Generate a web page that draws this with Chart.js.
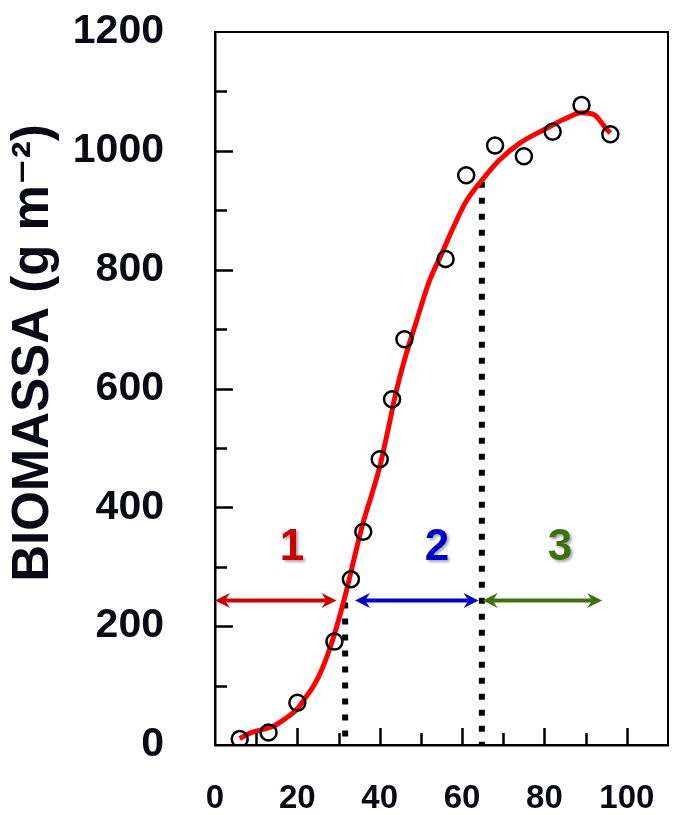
<!DOCTYPE html>
<html>
<head>
<meta charset="utf-8">
<script src="https://cdn.jsdelivr.net/npm/chart.js@4.4.1/dist/chart.umd.min.js"></script>
<style>
  html, body { margin: 0; padding: 0; background: #ffffff; overflow: hidden; }
  canvas { display: block; }
</style>
</head>
<body>
<canvas id="c" width="673" height="815"></canvas>
<script>
// Observed biomass (days vs g m-2)
const obsDays    = [6, 13, 20, 29, 33, 36, 40, 43, 46, 56, 61, 68, 75, 82, 89, 96];
const obsBiomass = [10, 21, 71, 174, 279, 359, 481, 582, 683, 818, 959, 1009, 991, 1032, 1077, 1028];

// Fitted growth curve
const fitDays    = [6, 8.5, 11, 14, 17, 20, 22, 24, 26, 28, 30, 32, 34, 36, 38, 40, 42, 44, 46, 49, 52, 55, 58, 61, 65, 69, 74, 80, 85, 89, 92, 95, 96];
const fitBiomass = [11, 20, 25, 31, 44, 61, 80, 100, 128, 165, 210, 262, 320, 375, 420, 468, 530, 595, 648, 715, 780, 826, 873, 915, 952, 984, 1013, 1036, 1054, 1064, 1061, 1037, 1030];

// Phase boundaries (dotted drops from the curve)
const boundDays    = [31.6, 64.8];
const boundBiomass = [240, 948];

// Growth phases
const phaseNames      = ['1', '2', '3'];
const phaseStart      = [0, 34, 65];
const phaseEnd        = [29.5, 64, 94];
const phaseLabelDays  = [18.7, 53.9, 83.8];
const phaseArrowLevel = 243;
const phaseLabelLevel = 331;
const phaseColors     = ['#cc0000', '#0000cc', '#3d7010'];

// Axis ticks
const xTicks      = [0, 20, 40, 60, 80, 100];
const xMinorTicks = [10, 30, 50, 70, 90];
const yTicks      = [0, 200, 400, 600, 800, 1000, 1200];
const yMinorTicks = [100, 300, 500, 700, 900, 1100];

const FONT = "'Liberation Sans', Arial, 'DejaVu Sans', sans-serif";

const toPts = (xs, ys) => xs.map((v, i) => ({ x: v, y: ys[i] }));

// Inward tick marks on the frame
const innerTicks = {
  id: 'innerTicks',
  afterDraw(chart) {
    const { ctx, chartArea: a, scales: { x, y } } = chart;
    ctx.save();
    ctx.strokeStyle = '#000';
    ctx.lineWidth = 2.5;
    ctx.beginPath();
    yTicks.slice(1, -1).forEach(v => {
      const p = Math.round(y.getPixelForValue(v)) + 0.5;
      ctx.moveTo(a.left, p); ctx.lineTo(a.left + 18, p);
    });
    yMinorTicks.forEach(v => {
      const p = Math.round(y.getPixelForValue(v)) + 0.5;
      ctx.moveTo(a.left, p); ctx.lineTo(a.left + 12, p);
    });
    xTicks.slice(1).forEach(v => {
      const p = Math.round(x.getPixelForValue(v)) + 0.5;
      ctx.moveTo(p, a.bottom); ctx.lineTo(p, a.bottom - 17);
    });
    xMinorTicks.forEach(v => {
      const p = Math.round(x.getPixelForValue(v)) + 0.5;
      ctx.moveTo(p, a.bottom); ctx.lineTo(p, a.bottom - 12);
    });
    ctx.stroke();
    ctx.restore();
  }
};

// Double-headed phase arrows and phase numbers
function arrowHead(ctx, tipX, y, dir) {
  const len = 15, half = 7.5, notch = 10;
  ctx.beginPath();
  ctx.moveTo(tipX, y);
  ctx.lineTo(tipX - dir * len, y - half);
  ctx.lineTo(tipX - dir * notch, y);
  ctx.lineTo(tipX - dir * len, y + half);
  ctx.closePath();
  ctx.fill();
}

const phaseMarks = {
  id: 'phaseMarks',
  afterDatasetsDraw(chart) {
    const { ctx, scales: { x, y } } = chart;
    ctx.save();
    const py = y.getPixelForValue(phaseArrowLevel);
    phaseNames.forEach((name, i) => {
      const x1 = x.getPixelForValue(phaseStart[i]);
      const x2 = x.getPixelForValue(phaseEnd[i]);
      ctx.strokeStyle = phaseColors[i];
      ctx.fillStyle = phaseColors[i];
      ctx.lineWidth = 4;
      ctx.beginPath();
      ctx.moveTo(x1 + 10, py);
      ctx.lineTo(x2 - 10, py);
      ctx.stroke();
      arrowHead(ctx, x1, py, -1);
      arrowHead(ctx, x2, py, 1);

      ctx.save();
      ctx.shadowColor = 'rgba(0,0,0,0.35)';
      ctx.shadowOffsetX = 2;
      ctx.shadowOffsetY = 2;
      ctx.shadowBlur = 3;
      ctx.font = 'bold 44px ' + FONT;
      ctx.textAlign = 'center';
      ctx.textBaseline = 'middle';
      ctx.fillText(name, x.getPixelForValue(phaseLabelDays[i]), y.getPixelForValue(phaseLabelLevel));
      ctx.restore();
    });
    ctx.restore();
  }
};

const dotted = (i) => ({
  type: 'line',
  data: [{ x: boundDays[i], y: boundBiomass[i] }, { x: boundDays[i], y: 0 }],
  borderColor: '#05050f',
  borderWidth: 6,
  borderDash: [6, 10],
  borderCapStyle: 'butt',
  pointRadius: 0,
  fill: false
});

const noPad = s => { s.paddingTop = 0; s.paddingBottom = 0; s.paddingLeft = 0; s.paddingRight = 0; };

new Chart(document.getElementById('c'), {
  type: 'scatter',
  data: {
    datasets: [
      {
        label: 'Observado',
        data: toPts(obsDays, obsBiomass),
        pointStyle: 'circle',
        pointRadius: 8,
        pointBorderWidth: 2.5,
        pointBorderColor: '#000',
        pointBackgroundColor: 'rgba(0,0,0,0)',
        showLine: false
      },
      {
        type: 'line',
        label: 'Ajuste',
        data: toPts(fitDays, fitBiomass),
        borderColor: '#ff0000',
        borderWidth: 5,
        pointRadius: 0,
        cubicInterpolationMode: 'monotone',
        fill: false
      },
      dotted(0),
      dotted(1)
    ]
  },
  options: {
    responsive: false,
    animation: false,
    events: [],
    layout: { autoPadding: false, padding: { top: 32, right: 5, left: 0, bottom: 0 } },
    plugins: { legend: { display: false }, tooltip: { enabled: false } },
    scales: {
      x: {
        type: 'linear', position: 'bottom', min: 0, max: 110,
        afterBuildTicks: s => { s.ticks = xTicks.map(v => ({ value: v })); },
        afterFit: s => { s.height = 70; noPad(s); },
        grid: { display: false },
        border: { display: true, color: '#000', width: 2.5 },
        ticks: { color: '#0a0a14', font: { family: FONT, size: 33, weight: 'bold' }, padding: 26, maxRotation: 0, callback: v => String(v) }
      },
      y: {
        type: 'linear', position: 'left', min: 0, max: 1200,
        afterBuildTicks: s => { s.ticks = yTicks.map(v => ({ value: v })); },
        afterFit: s => { s.width = 215; noPad(s); },
        grid: { display: false },
        border: { display: true, color: '#000', width: 2.5 },
        ticks: { color: '#0a0a14', font: { family: FONT, size: 41, weight: 'bold' }, padding: 43, callback: v => String(v) },
        title: {
          display: true,
          text: '     BIOMASSA (g m⁻²)',
          color: '#0a0a14',
          font: { family: FONT, size: 51, weight: 'bold', lineHeight: 1 },
          padding: { top: 8, bottom: 0 }
        }
      },
      x2: {
        type: 'linear', position: 'top', min: 0, max: 110, display: true,
        afterFit: s => { s.height = 0; noPad(s); },
        grid: { display: false, drawTicks: false },
        border: { display: true, color: '#000', width: 2 },
        ticks: { display: false }
      },
      y2: {
        type: 'linear', position: 'right', min: 0, max: 1200, display: true,
        afterFit: s => { s.width = 0; noPad(s); },
        grid: { display: false, drawTicks: false },
        border: { display: true, color: '#000', width: 2 },
        ticks: { display: false }
      }
    }
  },
  plugins: [innerTicks, phaseMarks]
});
</script>
</body>
</html>
